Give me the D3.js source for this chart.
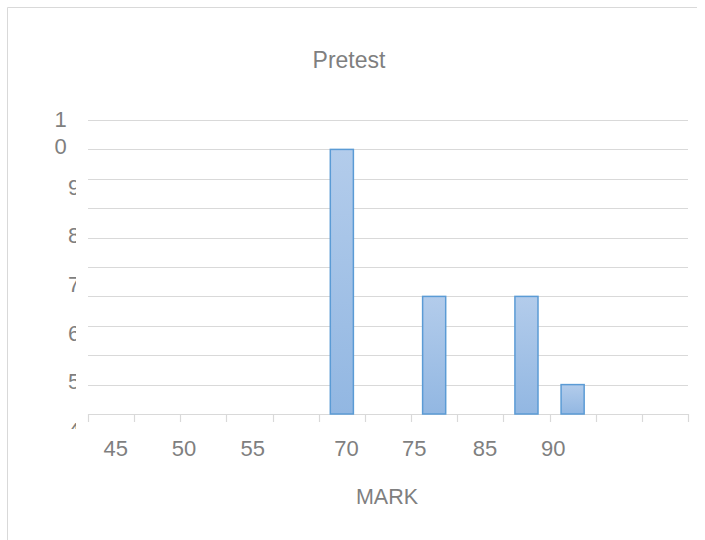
<!DOCTYPE html>
<html>
<head>
<meta charset="utf-8">
<script src="https://cdn.jsdelivr.net/npm/d3@7"></script>
<style>
  body { margin: 0; background: #fff; }
  svg { display: block; font-family: "Liberation Sans", Arial, sans-serif; }
</style>
</head>
<body>
<svg id="chart"></svg>
<script>
// data
const categories = ['1', '2', '3', '4', '5', '6', '7', '8', '9', '10', '11', '12', '13'];
const counts = [0, 0, 0, 0, 0, 9, 0, 4, 0, 4, 1, 0, 0];
const xTickLabels = ['45', '50', '55', '70', '75', '85', '90'];
const yTickLabels = ['10', '9', '8', '7', '6', '5', '4'];
const gridValues = [0, 1, 2, 3, 4, 5, 6, 7, 8, 9, 10];

function makeChart() {
    let w = 705;
    let h = 540;
    let left = 88, right = 688, top = 120, bottom = 414;

    let svg = d3.select('#chart')
        .attr('width', w)
        .attr('height', h);

    // chart frame (top and left edges visible)
    svg.append('path')
        .attr('d', `M7.5,${h} V7.5 H697`)
        .attr('fill', 'none')
        .attr('stroke', '#d9d9d9')
        .attr('stroke-width', 1);

    let xScale = d3.scaleBand()
        .domain(categories)
        .range([left, right])
        .paddingInner(0.5)
        .paddingOuter(0.25);
    let step = xScale.step();

    let yScale = d3.scaleLinear()
        .domain([0, 10])
        .range([bottom, top]);

    // gridlines
    svg.append('g')
        .selectAll('line')
        .data(gridValues)
        .enter()
        .append('line')
        .attr('x1', left)
        .attr('x2', right)
        .attr('y1', (d) => Math.round(yScale(d)) + 0.5)
        .attr('y2', (d) => Math.round(yScale(d)) + 0.5)
        .attr('stroke', '#d9d9d9')
        .attr('stroke-width', 1.2);

    // category tick marks on the baseline
    let tickX = categories.map((c) => xScale(c) - step * 0.25).concat([right]);
    svg.append('g')
        .selectAll('line')
        .data(tickX)
        .enter()
        .append('line')
        .attr('x1', (d) => Math.round(d) + 0.5)
        .attr('x2', (d) => Math.round(d) + 0.5)
        .attr('y1', bottom)
        .attr('y2', bottom + 8)
        .attr('stroke', '#d9d9d9')
        .attr('stroke-width', 1.2);

    // bar gradient
    let grad = svg.append('defs')
        .append('linearGradient')
        .attr('id', 'barFill')
        .attr('x1', 0).attr('y1', 0)
        .attr('x2', 0).attr('y2', 1);
    grad.append('stop').attr('offset', '0%').attr('stop-color', '#b3cceb');
    grad.append('stop').attr('offset', '100%').attr('stop-color', '#92b7e2');

    svg.append('g')
        .selectAll('rect')
        .data(counts.map((v, i) => ({ cat: categories[i], v: v })).filter((d) => d.v > 0))
        .enter()
        .append('rect')
        .attr('x', (d) => xScale(d.cat))
        .attr('y', (d) => yScale(d.v))
        .attr('width', xScale.bandwidth())
        .attr('height', (d) => yScale(0) - yScale(d.v))
        .attr('fill', 'url(#barFill)')
        .attr('stroke', '#5b9bd5')
        .attr('stroke-width', 1.5);

    // x tick labels (Excel spread them unevenly)
    let xLabelSlots = [0.6, 2.08, 3.57, 5.6, 7.07, 8.6, 10.08];
    let slotScale = d3.scaleLinear()
        .domain([0, categories.length])
        .range([left, right]);
    svg.append('g')
        .selectAll('text')
        .data(xTickLabels)
        .enter()
        .append('text')
        .attr('x', (d, i) => slotScale(xLabelSlots[i]))
        .attr('y', 456)
        .attr('text-anchor', 'middle')
        .attr('font-size', '22px')
        .attr('fill', '#7f7f7f')
        .text((d) => d);

    // y tick labels, clipped like the original
    svg.append('clipPath')
        .attr('id', 'yClip')
        .append('rect')
        .attr('x', 0).attr('y', 0)
        .attr('width', 76).attr('height', 429);

    let yLabelScale = d3.scalePoint()
        .domain(yTickLabels)
        .range([138, 430]);

    let yLabels = svg.append('g')
        .attr('clip-path', 'url(#yClip)')
        .selectAll('text')
        .data(yTickLabels)
        .enter()
        .append('text')
        .attr('font-size', '22px')
        .attr('fill', '#7f7f7f');

    yLabels.each(function(d) {
        let t = d3.select(this);
        let y = yLabelScale(d);
        if (d.length > 1) {
            // wrapped label: one character per line
            d.split('').forEach((ch, j) => {
                t.append('tspan')
                    .attr('x', 60.5)
                    .attr('y', y - 11 + j * 27)
                    .attr('text-anchor', 'middle')
                    .text(ch);
            });
        } else {
            t.attr('x', 68)
                .attr('y', y + 8)
                .text(d);
        }
    });

    // title and axis title
    svg.append('text')
        .attr('x', 349)
        .attr('y', 68)
        .attr('text-anchor', 'middle')
        .attr('font-size', '23px')
        .attr('fill', '#7f7f7f')
        .text('Pretest');

    svg.append('text')
        .attr('x', 387)
        .attr('y', 504)
        .attr('text-anchor', 'middle')
        .attr('font-size', '21.5px')
        .attr('fill', '#7f7f7f')
        .text('MARK');
}

window.onload = function() {
    makeChart();
};
</script>
</body>
</html>
